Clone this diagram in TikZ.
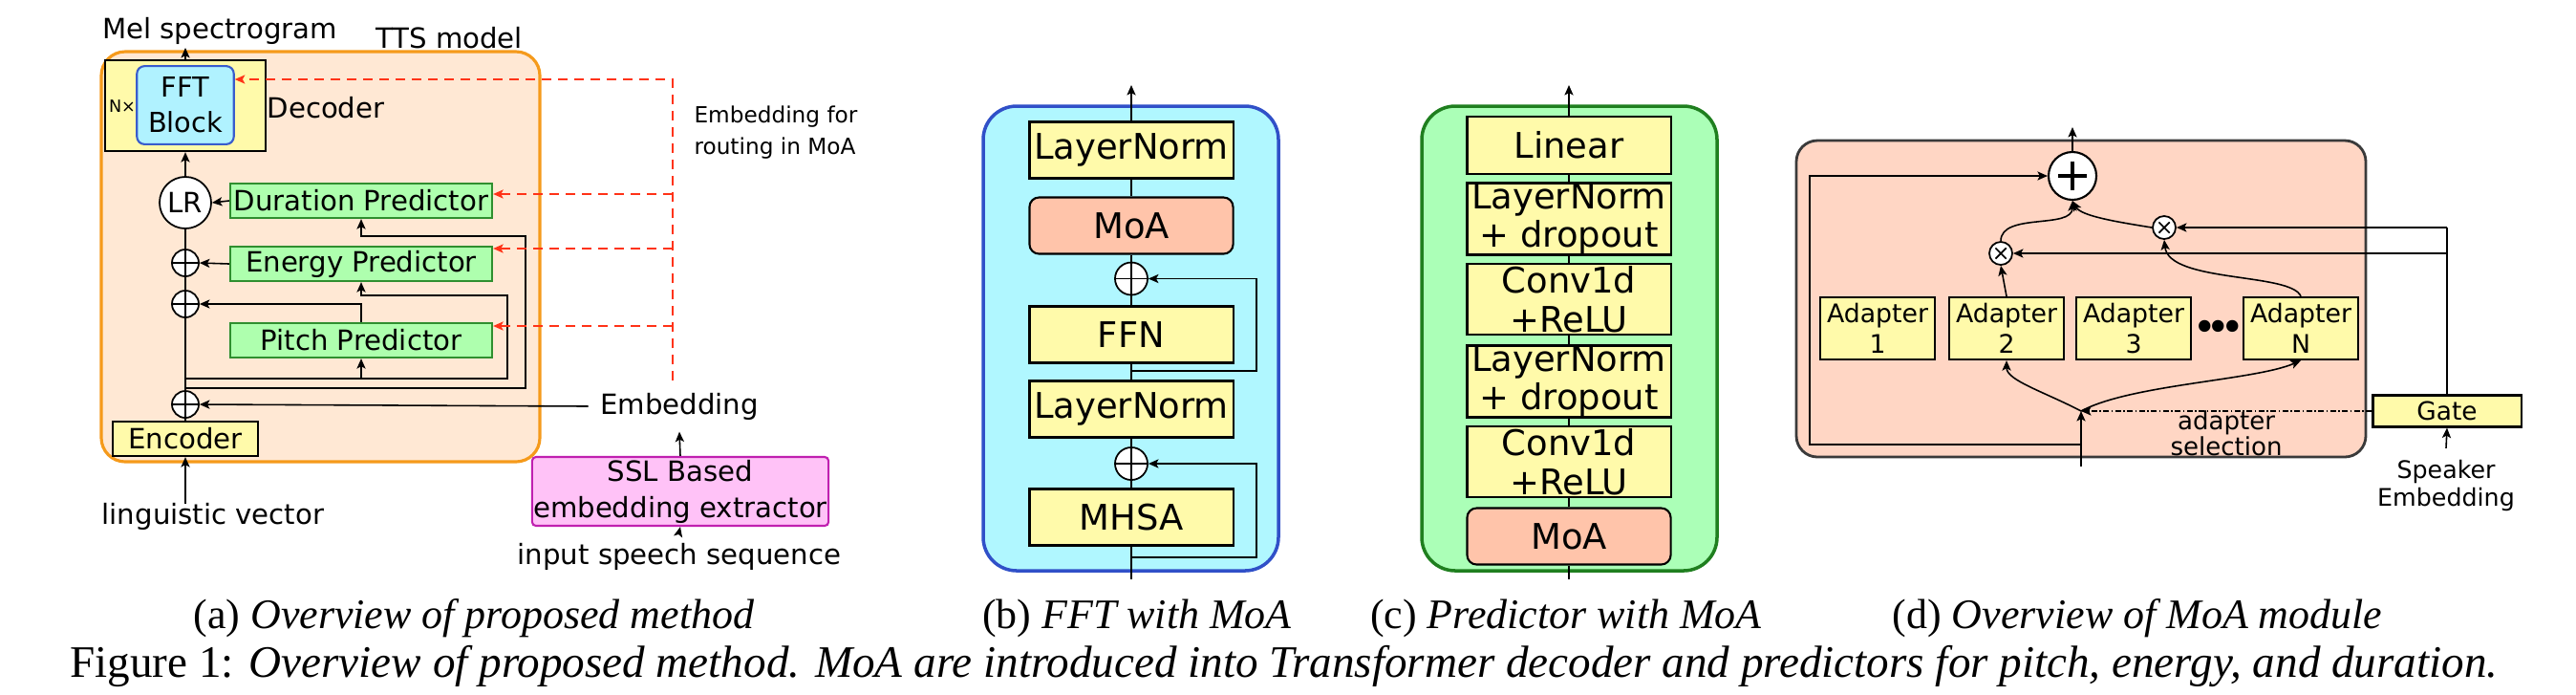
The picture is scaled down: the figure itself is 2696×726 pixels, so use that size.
\documentclass[tikz,border=0pt]{standalone}
\usepackage{fontspec}
\setmainfont{Liberation Serif}
\newfontfamily\dejavu{DejaVu Sans}
\usetikzlibrary{arrows.meta}

\definecolor{ttsfill}{HTML}{FFE8D4}
\definecolor{ttsline}{HTML}{F59A1B}
\definecolor{boxyellow}{HTML}{FFFAAA}
\definecolor{fftcyan}{HTML}{B0F2FF}
\definecolor{fftline}{HTML}{3A5CCC}
\definecolor{predgreen}{HTML}{AEFFAE}
\definecolor{predline}{HTML}{2F8F2F}
\definecolor{sslpink}{HTML}{FFC2F7}
\definecolor{sslline}{HTML}{C020B0}
\definecolor{moasalmon}{HTML}{FFC4AA}
\definecolor{routered}{HTML}{FF3318}
\definecolor{fftpanel}{HTML}{B0F7FF}
\definecolor{fftpanelline}{HTML}{3050C8}
\definecolor{predpanel}{HTML}{ABFFB7}
\definecolor{predpanelline}{HTML}{1F7F1F}
\definecolor{moapanel}{HTML}{FFD6C4}
\definecolor{moapanelline}{HTML}{3A3A3A}

\tikzset{
  arr/.style={-{Stealth[length=3pt,width=2.6pt,inset=0.7pt]}},
  yellowbox/.style={draw, fill=boxyellow, line width=0.6pt, inner sep=0pt},
  predbox/.style={draw=predline, fill=predgreen, line width=0.6pt, inner sep=0pt,
    minimum width=2.74cm, minimum height=0.36cm},
  moabox/.style={draw, fill=moasalmon, line width=0.6pt, rounded corners=0.1cm,
    minimum width=2.13cm, minimum height=0.59cm},
  layerbox/.style={yellowbox, minimum width=2.13cm, minimum height=0.59cm},
  twoline/.style={yellowbox, align=center, minimum width=2.13cm, minimum height=0.74cm,
    font=\dejavu\fontsize{10.5}{11.5}\selectfont},
  adapterbox/.style={yellowbox, align=center, minimum width=1.2cm, minimum height=0.65cm,
    font=\dejavu\fontsize{7.6}{9.2}\selectfont},
  oplus/.style={draw, circle, fill=white, line width=0.5pt, minimum size=#1, inner sep=0pt,
    path picture={\draw[line width=0.5pt]
      (path picture bounding box.north) -- (path picture bounding box.south)
      (path picture bounding box.west) -- (path picture bounding box.east);}},
  otimes/.style={draw, circle, fill=white, line width=0.5pt, minimum size=0.24cm, inner sep=0pt,
    path picture={\draw[line width=0.5pt]
      ([shift={(-1.6pt,-1.6pt)}]path picture bounding box.center) -- ++(3.2pt,3.2pt)
      ([shift={(-1.6pt,1.6pt)}]path picture bounding box.center) -- ++(3.2pt,-3.2pt);}},
  reddash/.style={routered, line width=0.5pt, dash pattern=on 0.1cm off 0.07cm},
  caption/.style={font=\rmfamily\fontsize{12.5}{14}\selectfont, inner sep=0pt, anchor=base}
}

\begin{document}
\begin{tikzpicture}[x=0.01cm, y=-0.01cm, line width=0.45pt,
  font=\dejavu\fontsize{8.3}{10.8}\selectfont]

\useasboundingbox (0,0) rectangle (2696,726);

% (a) TTS model
\draw[ttsline, fill=ttsfill, line width=0.9pt, rounded corners=0.25cm] (106,54) rectangle (565,483);
\node (tts) at (470,40) {TTS model};
\node (mel) at (230,32) {Mel spectrogram};
\coordinate (melout) at (194,50);

\node[yellowbox, minimum width=1.68cm, minimum height=0.95cm] (decoder) at (194,110.5) {};
\node[draw=fftline, fill=fftcyan, line width=0.6pt, rounded corners=0.08cm,
    minimum width=1.0cm, minimum height=0.74cm, align=center,
    font=\dejavu\fontsize{8.2}{10.5}\selectfont] (fft) at (194,110) {FFT\\Block};
\node[font=\dejavu\fontsize{5}{6}\selectfont] (nx) at (128,111) {N×};
\node (declabel) at (341,113) {Decoder};

\node[draw, circle, fill=white, line width=0.5pt, minimum size=0.54cm, inner sep=0pt] (lr) at (194,212) {LR};

% Predictors
\node[predbox] (duration) at (378,210) {Duration Predictor};
\node[predbox] (energy) at (378,276) {Energy Predictor};
\node[predbox] (pitch) at (378,356) {Pitch Predictor};

\node[oplus=0.28cm] (op1) at (194,275) {};
\node[oplus=0.28cm] (op2) at (194,318) {};
\node[oplus=0.28cm] (op3) at (194,423) {};

\node[yellowbox, minimum width=1.52cm, minimum height=0.36cm] (encoder) at (194,459) {Encoder};
\node (ling) at (223,540) {linguistic vector};
\coordinate (lingin) at (194,527);

% main path
\draw[arr] (lingin) -- (encoder.south);
\draw (encoder.north) -- (op3.south);
\draw (op3.north) -- (op2.south);
\draw (op2.north) -- (op1.south);
\draw (op1.north) -- (lr.south);
\draw[arr] (lr.north) -- (decoder.south);
\draw[arr] (decoder.north) -- (melout);

\draw[arr] (duration.west) -- (lr.east);
\draw[arr] (energy.west) -- (op1.east);
\draw[arr] (pitch.north) |- (op2.east);

% inputs of the predictors
\coordinate (tap1) at (194,396);
\coordinate (tap2) at (194,406);
\draw[arr] (tap1) -| (531,309) -| (energy.south);
\draw[arr] (tap1 -| pitch.south) -- (pitch.south);
\draw[arr] (tap2) -| (550,247) -| (duration.south);

% embedding extractor
\node (emb) at (711,425) {Embedding};
\node[draw=sslline, fill=sslpink, line width=0.6pt, rounded corners=0.04cm,
    minimum width=3.1cm, minimum height=0.72cm, align=center, inner sep=0pt] (ssl) at (712,514) {SSL Based\\embedding extractor};
\node (speech) at (711,582) {input speech sequence};
\draw[arr] (emb.west) -- (op3.east);
\draw[arr] (ssl.north) -- (emb.south);
\draw[arr] (speech.north) -- (ssl.south);

% routing embedding (red dashed)
\node[align=left, anchor=west, font=\dejavu\fontsize{6.6}{9.4}\selectfont] (routing) at (714,139) {Embedding for\\routing in MoA};
\coordinate (rtop) at (704,83);
\coordinate (rdur) at (704,203);
\coordinate (rene) at (704,260);
\coordinate (rpit) at (704,341);
\draw[reddash, arr] (emb.north -| rtop) -- (rtop) -- (rtop -| fft.east);
\draw[reddash, arr] (rdur) -- (rdur -| duration.east);
\draw[reddash, arr] (rene) -- (rene -| energy.east);
\draw[reddash, arr] (rpit) -- (rpit -| pitch.east);

% (b) FFT with MoA
\draw[fftpanelline, fill=fftpanel, line width=1pt, rounded corners=0.35cm] (1029,111) rectangle (1338,597);
\node[layerbox, font=\dejavu\fontsize{10.5}{12}\selectfont] (lnb1) at (1184,157) {LayerNorm};
\node[moabox, font=\dejavu\fontsize{10.5}{12}\selectfont] (moab) at (1184,236) {MoA};
\node[oplus=0.34cm] (opb1) at (1184,291.5) {};
\node[layerbox, font=\dejavu\fontsize{10.5}{12}\selectfont] (ffn) at (1184,350) {FFN};
\node[layerbox, font=\dejavu\fontsize{10.5}{12}\selectfont] (lnb2) at (1184,428) {LayerNorm};
\node[oplus=0.34cm] (opb2) at (1184,485) {};
\node[layerbox, font=\dejavu\fontsize{10.5}{12}\selectfont] (mhsa) at (1184,541) {MHSA};
\coordinate (bin) at (1184,606);
\coordinate (bout) at (1184,89);
\coordinate (resb1) at (1184,583);
\coordinate (resb2) at (1184,388);

\draw (bin) -- (mhsa.south);
\draw (mhsa.north) -- (opb2.south);
\draw (opb2.north) -- (lnb2.south);
\draw (lnb2.north) -- (ffn.south);
\draw (ffn.north) -- (opb1.south);
\draw (opb1.north) -- (moab.south);
\draw (moab.north) -- (lnb1.south);
\draw[arr] (lnb1.north) -- (bout);
\draw[arr] (resb1) -| (1315,485) -- (opb2.east);
\draw[arr] (resb2) -| (1315,291.5) -- (opb1.east);

% (c) Predictor with MoA
\draw[predpanelline, fill=predpanel, line width=1pt, rounded corners=0.35cm] (1488,111) rectangle (1797,597);
\node[yellowbox, minimum width=2.13cm, minimum height=0.6cm, font=\dejavu\fontsize{10.5}{12}\selectfont] (linear) at (1642,152) {Linear};
\node[twoline] (lnc1) at (1642,229) {LayerNorm\\+ dropout};
\node[twoline] (convc1) at (1642,313) {Conv1d\\+ReLU};
\node[twoline] (lnc2) at (1642,399) {LayerNorm\\+ dropout};
\node[twoline] (convc2) at (1642,483) {Conv1d\\+ReLU};
\node[moabox, font=\dejavu\fontsize{10.5}{12}\selectfont] (moac) at (1642,561) {MoA};
\coordinate (cin) at (1642,606);
\coordinate (cout) at (1642,89);

\draw (cin) -- (moac.south);
\draw (moac.north) -- (convc2.south);
\draw (convc2.north) -- (lnc2.south);
\draw (lnc2.north) -- (convc1.south);
\draw (convc1.north) -- (lnc1.south);
\draw (lnc1.north) -- (linear.south);
\draw[arr] (linear.north) -- (cout);

% (d) MoA module
\draw[moapanelline, fill=moapanel, line width=0.8pt, rounded corners=0.22cm] (1880,147) rectangle (2476,478);
\node[draw, circle, fill=white, line width=0.6pt, minimum size=0.5cm, inner sep=0pt,
    path picture={\draw[line width=1.1pt]
      ([yshift=-4.2pt]path picture bounding box.center) -- ++(0,8.4pt)
      ([xshift=-4.2pt]path picture bounding box.center) -- ++(8.4pt,0);}] (plus) at (2169,184) {};
\node[otimes] (ot1) at (2094,265) {};
\node[otimes] (ot2) at (2265,238) {};

\node[adapterbox] (ad1) at (1965,343.5) {Adapter\\1};
\node[adapterbox] (ad2) at (2100,343.5) {Adapter\\2};
\node[adapterbox] (ad3) at (2233,343.5) {Adapter\\3};
\node[adapterbox] (adN) at (2408,343.5) {Adapter\\N};
\node[font=\dejavu\bfseries\fontsize{10}{10}\selectfont, inner sep=0pt] (dots) at (2322,345) {•\kern-2.2pt•\kern-2.2pt•};

\node[yellowbox, minimum width=1.55cm, minimum height=0.33cm, font=\dejavu\fontsize{7.5}{9}\selectfont] (gate) at (2561,430) {Gate};
\node[align=center, font=\dejavu\fontsize{7.4}{7.8}\selectfont] (selection) at (2330,453) {adapter\\selection};
\node[align=center, font=\dejavu\fontsize{7.2}{8.2}\selectfont] (speaker) at (2560,508) {Speaker\\Embedding};

\coordinate (din) at (2178,488);
\coordinate (sel) at (2178,430);
\coordinate (dres) at (2178,465);
\coordinate (dcorner) at (1894,465);
\coordinate (dout) at (2169,133);
\coordinate (gtop) at (gate.north |- ot2.east);

\draw[arr] (din) -- (sel);
\draw[arr] (dres) -- (dcorner) |- (plus.west);
\draw[arr] (plus.north) -- (dout);
\draw[arr] (sel) .. controls (2140,410) and (2100,398) .. (ad2.south);
\draw[arr] (sel) .. controls (2230,402) and (2360,398) .. (adN.south);
\draw[arr] (ad2.north) -- (ot1.south);
\draw[arr] (adN.north) .. controls (2398,285) and (2270,296) .. (ot2.south);
\draw[arr] (ot1.north) .. controls (2094,222) and (2169,240) .. (plus.south);
\draw[arr] (ot2.west) .. controls (2215,232) and (2178,226) .. (plus.south);
\draw (gate.north) -- (gtop);
\draw[arr] (gtop) -- (ot2.east);
\draw[arr] (gate.north |- ot1.east) -- (ot1.east);
\draw[arr, dash pattern=on 0.06cm off 0.025cm on 0.015cm off 0.025cm] (gate.west) -- (sel);
\draw[arr] (speaker.north) -- (gate.south);

% Captions
\node[caption] (capa) at (496,657) {(a) \textit{Overview of proposed method}};
\node[caption] (capb) at (1190,657) {(b) \textit{FFT with MoA}};
\node[caption] (capc) at (1639,657) {(c) \textit{Predictor with MoA}};
\node[caption] (capd) at (2237,657) {(d) \textit{Overview of MoA module}};
\node[caption, font=\rmfamily\fontsize{13.4}{15}\selectfont] (fig) at (1344,708) {Figure 1: \textit{Overview of proposed method. MoA are introduced into Transformer decoder and predictors for pitch, energy, and duration.}};

\end{tikzpicture}
\end{document}
